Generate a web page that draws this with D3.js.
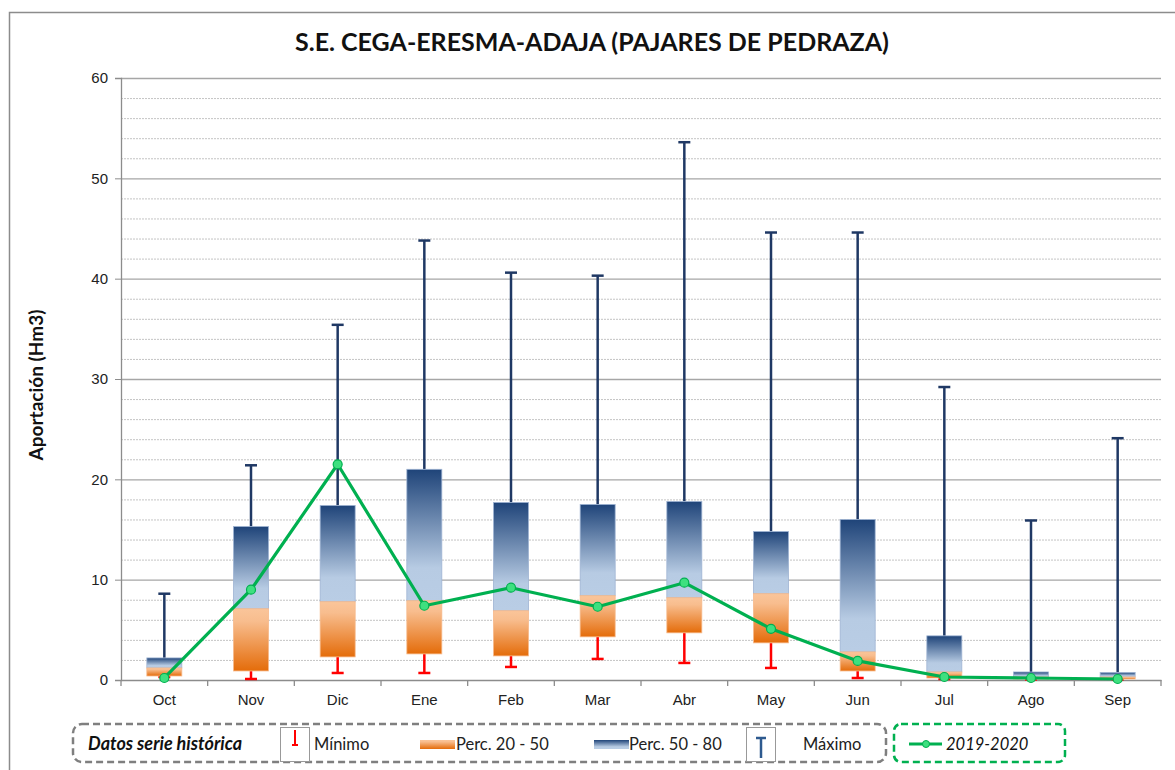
<!DOCTYPE html>
<html>
<head>
<meta charset="utf-8">
<script src="https://cdn.jsdelivr.net/npm/d3@7"></script>
<style>
  body { margin: 0; background: #fff; }
  svg { display: block; font-family: Lato, "Open Sans", sans-serif; }
</style>
</head>
<body>
<div id="chart"></div>
<script>
// datos (Hm3)
const meses = ["Oct", "Nov", "Dic", "Ene", "Feb", "Mar", "Abr", "May", "Jun", "Jul", "Ago", "Sep"];
const minimo = [0.3, 0.1, 0.7, 0.7, 1.3, 2.1, 1.7, 1.2, 0.2, 0.1, 0.05, 0.05];
const perc20 = [0.4, 0.9, 2.3, 2.6, 2.4, 4.3, 4.7, 3.7, 0.9, 0.2, 0.1, 0.1];
const perc50 = [1.2, 7.1, 7.8, 7.9, 6.9, 8.4, 8.2, 8.6, 2.8, 0.8, 0.3, 0.3];
const perc80 = [2.2, 15.3, 17.4, 21.0, 17.7, 17.5, 17.8, 14.8, 16.0, 4.4, 0.8, 0.75];
const maximo = [8.6, 21.4, 35.4, 43.8, 40.6, 40.3, 53.6, 44.6, 44.6, 29.2, 15.9, 24.1];
const serie2019 = [0.2, 9.0, 21.5, 7.4, 9.2, 7.3, 9.7, 5.1, 1.9, 0.3, 0.2, 0.1];
const yTicks = [0, 10, 20, 30, 40, 50, 60];

const width = 1175, height = 770;
const margin = { left: 121, right: 1161, top: 78, bottom: 680 };

const svg = d3.select("#chart").append("svg")
  .attr("width", width)
  .attr("height", height);

// degradados
const defs = svg.append("defs");
const gAzul = defs.append("linearGradient").attr("id", "gAzul")
  .attr("x1", 0).attr("y1", 0).attr("x2", 0).attr("y2", 1);
gAzul.append("stop").attr("offset", "0%").attr("stop-color", "#1f4479");
gAzul.append("stop").attr("offset", "75%").attr("stop-color", "#b7cbe3");
gAzul.append("stop").attr("offset", "100%").attr("stop-color", "#b9cde5");
const gNaranja = defs.append("linearGradient").attr("id", "gNaranja")
  .attr("x1", 0).attr("y1", 0).attr("x2", 0).attr("y2", 1);
gNaranja.append("stop").attr("offset", "0%").attr("stop-color", "#fac59a");
gNaranja.append("stop").attr("offset", "20%").attr("stop-color", "#f8bd8e");
gNaranja.append("stop").attr("offset", "100%").attr("stop-color", "#e46c0a");

// borde exterior
svg.append("rect")
  .attr("x", 9.5).attr("y", 12.5)
  .attr("width", 1180).attr("height", 800)
  .attr("fill", "none").attr("stroke", "#8c8c8c").attr("stroke-width", 1.5);

const x = d3.scaleBand().domain(meses).range([margin.left, margin.right]);
const y = d3.scaleLinear().domain([0, 60]).range([margin.bottom, margin.top]);

// rejilla menor (punteada) y mayor
const menores = d3.range(2, 60, 2).filter(v => v % 10 !== 0);
svg.append("g").selectAll("line").data(menores).join("line")
  .attr("x1", margin.left).attr("x2", margin.right)
  .attr("y1", d => y(d) + 0.5).attr("y2", d => y(d) + 0.5)
  .attr("stroke", "#c4c4c4").attr("stroke-width", 1).attr("stroke-dasharray", "2,1");

svg.append("g").selectAll("line").data(yTicks.slice(1)).join("line")
  .attr("x1", margin.left).attr("x2", margin.right)
  .attr("y1", d => y(d) + 0.5).attr("y2", d => y(d) + 0.5)
  .attr("stroke", "#a6a6a6").attr("stroke-width", 1.3);

// eje Y
const ejeY = svg.append("g")
  .attr("transform", `translate(${margin.left},0)`)
  .call(d3.axisLeft(y).tickValues(yTicks).tickSize(6).tickPadding(7));
ejeY.select(".domain").attr("stroke", "#8c8c8c").attr("stroke-width", 1.3);
ejeY.selectAll(".tick line").attr("stroke", "#8c8c8c");
ejeY.selectAll(".tick text").attr("font-size", 15).attr("fill", "#222");

// eje X
const ejeX = svg.append("g")
  .attr("transform", `translate(0,${margin.bottom})`)
  .call(d3.axisBottom(x).tickSize(0).tickPadding(14));
ejeX.select(".domain").attr("stroke", "#8c8c8c").attr("stroke-width", 1.3);
ejeX.selectAll(".tick text").attr("font-size", 15).attr("fill", "#222");
ejeX.selectAll(".sep").data(d3.range(meses.length + 1)).join("line")
  .attr("class", "sep")
  .attr("x1", i => margin.left + i * x.step()).attr("x2", i => margin.left + i * x.step())
  .attr("y1", 0).attr("y2", 6)
  .attr("stroke", "#8c8c8c").attr("stroke-width", 1.3);

// cajas
const datos = meses.map((m, i) => ({
  mes: m, min: minimo[i], p20: perc20[i], p50: perc50[i], p80: perc80[i], max: maximo[i], v: serie2019[i]
}));
const bw = 35, cap = 12;
const cx = d => x(d.mes) + x.bandwidth() / 2;

const cajas = svg.append("g").selectAll("g").data(datos).join("g");

// bigote maximo
cajas.append("line")
  .attr("x1", cx).attr("x2", cx)
  .attr("y1", d => y(d.p80)).attr("y2", d => y(d.max))
  .attr("stroke", "#1f3864").attr("stroke-width", 2.5);
cajas.append("line")
  .attr("x1", d => cx(d) - cap / 2).attr("x2", d => cx(d) + cap / 2)
  .attr("y1", d => y(d.max)).attr("y2", d => y(d.max))
  .attr("stroke", "#1f3864").attr("stroke-width", 2.5);

// bigote minimo
cajas.append("line")
  .attr("x1", cx).attr("x2", cx)
  .attr("y1", d => y(d.p20)).attr("y2", d => y(d.min))
  .attr("stroke", "#ff0000").attr("stroke-width", 2.5);
cajas.append("line")
  .attr("x1", d => cx(d) - cap / 2).attr("x2", d => cx(d) + cap / 2)
  .attr("y1", d => y(d.min)).attr("y2", d => y(d.min))
  .attr("stroke", "#ff0000").attr("stroke-width", 2.5);

cajas.append("rect")
  .attr("x", d => cx(d) - bw / 2).attr("width", bw)
  .attr("y", d => y(d.p80)).attr("height", d => y(d.p50) - y(d.p80))
  .attr("fill", "url(#gAzul)").attr("stroke", "#9fb4d3").attr("stroke-width", 0.8);
cajas.append("rect")
  .attr("x", d => cx(d) - bw / 2).attr("width", bw)
  .attr("y", d => y(d.p50)).attr("height", d => y(d.p20) - y(d.p50))
  .attr("fill", "url(#gNaranja)").attr("stroke", "#f7b98a").attr("stroke-width", 0.8);

// serie 2019-2020
const linea = d3.line().x(cx).y(d => y(d.v));
svg.append("path").datum(datos)
  .attr("d", linea)
  .attr("fill", "none").attr("stroke", "#00b050").attr("stroke-width", 3.2)
  .attr("stroke-linejoin", "round");
svg.append("g").selectAll("circle").data(datos).join("circle")
  .attr("cx", cx).attr("cy", d => y(d.v)).attr("r", 4.5)
  .attr("fill", "#3ee07f").attr("stroke", "#00b050").attr("stroke-width", 1.2);

// titulo
svg.append("text")
  .attr("x", 592).attr("y", 51)
  .attr("text-anchor", "middle")
  .attr("font-size", 25).attr("font-weight", "bold").attr("fill", "#111")
  .text("S.E. CEGA-ERESMA-ADAJA (PAJARES DE PEDRAZA)");

// titulo eje Y
svg.append("text")
  .attr("transform", "translate(43,385) rotate(-90)")
  .attr("text-anchor", "middle")
  .attr("font-size", 19).attr("font-weight", "bold").attr("fill", "#111")
  .text("Aportación (Hm3)");

// leyenda
const ley = svg.append("g");
ley.append("rect")
  .attr("x", 73).attr("y", 724).attr("width", 813).attr("height", 38).attr("rx", 9)
  .attr("fill", "none").attr("stroke", "#7f7f7f").attr("stroke-width", 2.5)
  .attr("stroke-dasharray", "7,4");
ley.append("rect")
  .attr("x", 894).attr("y", 724).attr("width", 171).attr("height", 38).attr("rx", 7)
  .attr("fill", "none").attr("stroke", "#00b050").attr("stroke-width", 2.5)
  .attr("stroke-dasharray", "7,4");

ley.append("text")
  .attr("x", 88).attr("y", 750)
  .attr("font-size", 18).attr("font-weight", "bold").attr("font-style", "italic").attr("fill", "#111")
  .text("Datos serie histórica");

// icono minimo
ley.append("rect").attr("x", 280.5).attr("y", 727.5).attr("width", 29).attr("height", 34)
  .attr("fill", "#fff").attr("stroke", "#999");
ley.append("line").attr("x1", 295).attr("x2", 295).attr("y1", 730).attr("y2", 745)
  .attr("stroke", "#ff0000").attr("stroke-width", 2);
ley.append("line").attr("x1", 292).attr("x2", 298).attr("y1", 745).attr("y2", 745)
  .attr("stroke", "#ff0000").attr("stroke-width", 2);
ley.append("text").attr("x", 314).attr("y", 750).attr("font-size", 16.5).attr("fill", "#222").text("Mínimo");

// percentiles
ley.append("rect").attr("x", 420).attr("y", 740).attr("width", 35).attr("height", 9)
  .attr("fill", "url(#gNaranja)");
ley.append("text").attr("x", 456).attr("y", 750).attr("font-size", 16.5).attr("fill", "#222").text("Perc. 20 - 50");
ley.append("rect").attr("x", 594).attr("y", 740).attr("width", 35).attr("height", 9)
  .attr("fill", "url(#gAzul)");
ley.append("text").attr("x", 629).attr("y", 750).attr("font-size", 16.5).attr("fill", "#222").text("Perc. 50 - 80");

// icono maximo
ley.append("rect").attr("x", 746.5).attr("y", 727.5).attr("width", 29).attr("height", 34)
  .attr("fill", "#fff").attr("stroke", "#999");
ley.append("line").attr("x1", 761).attr("x2", 761).attr("y1", 738).attr("y2", 758)
  .attr("stroke", "#2e5a8f").attr("stroke-width", 2.5);
ley.append("line").attr("x1", 756).attr("x2", 766).attr("y1", 738).attr("y2", 738)
  .attr("stroke", "#2e5a8f").attr("stroke-width", 2.5);
ley.append("text").attr("x", 803).attr("y", 750).attr("font-size", 16.5).attr("fill", "#222").text("Máximo");

// serie actual
ley.append("line").attr("x1", 909).attr("x2", 942).attr("y1", 744).attr("y2", 744)
  .attr("stroke", "#00b050").attr("stroke-width", 3);
ley.append("circle").attr("cx", 926).attr("cy", 744).attr("r", 3.5)
  .attr("fill", "#3ee07f").attr("stroke", "#00b050");
ley.append("text").attr("x", 946).attr("y", 750)
  .attr("font-size", 16.5).attr("font-style", "italic").attr("fill", "#111").text("2019-2020");
</script>
</body>
</html>
